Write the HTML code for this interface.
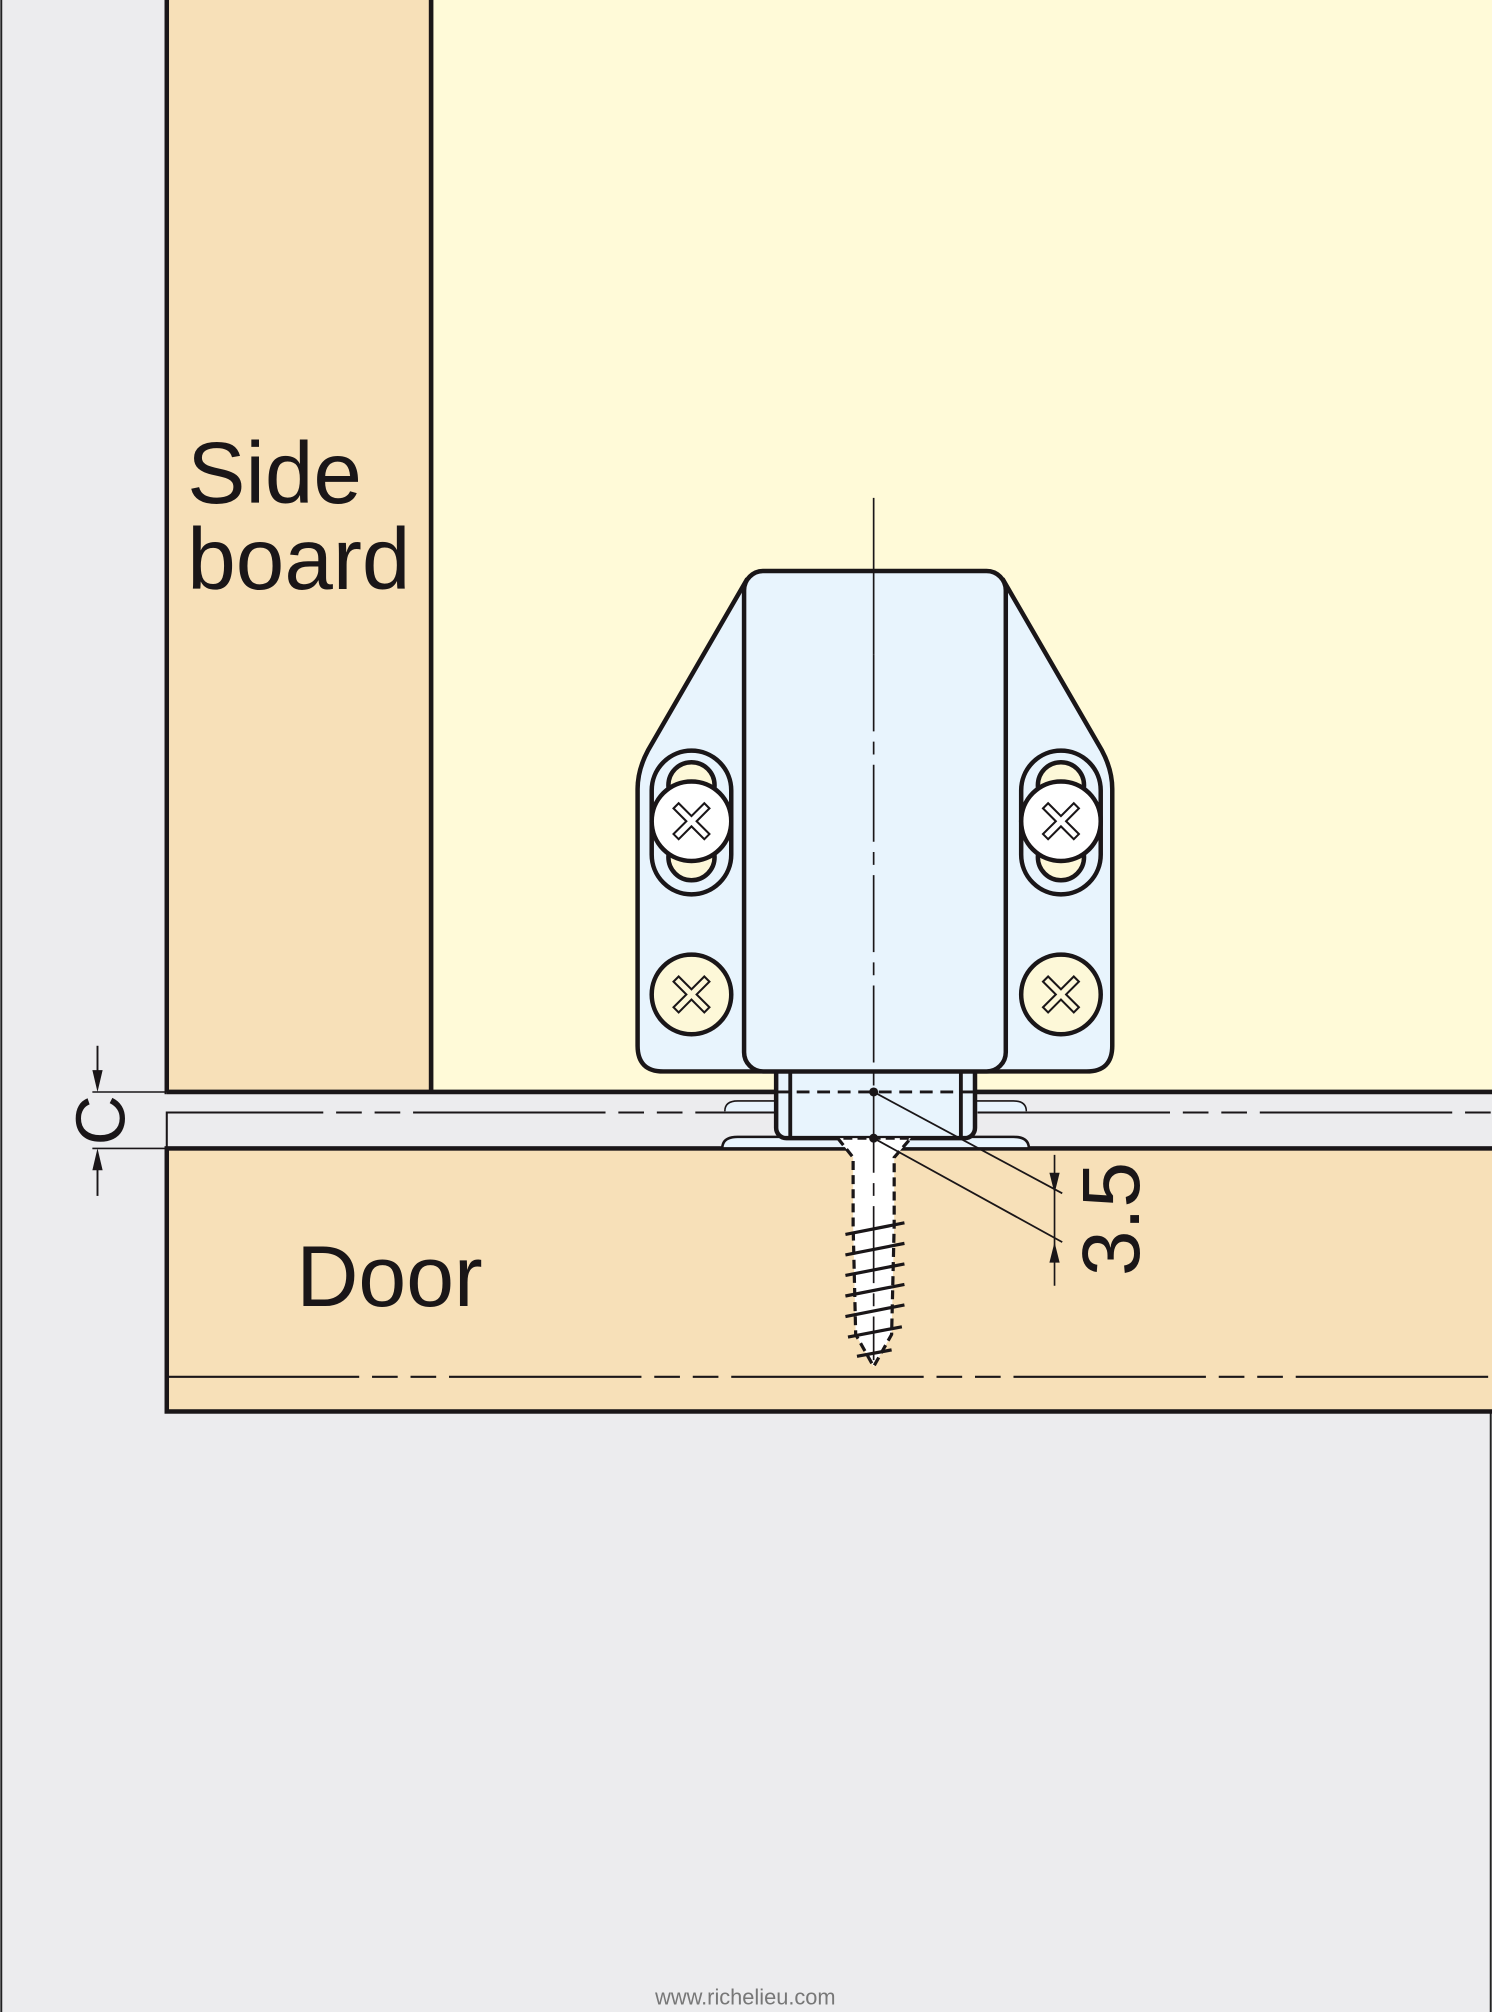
<!DOCTYPE html>
<html><head><meta charset="utf-8"><style>
html,body{margin:0;padding:0;background:#ececee;}
svg{display:block;}
text{font-family:"Liberation Sans",sans-serif;fill:#1a1618;}
</style></head><body>
<svg width="1492" height="2012" viewBox="0 0 1163 1568" preserveAspectRatio="none" xmlns="http://www.w3.org/2000/svg">
<rect x="0" y="0" width="1163" height="1568" fill="#ececee"/>
<line x1="1" y1="0" x2="1" y2="1568" stroke="#222" stroke-width="1.5"/>
<line x1="1162" y1="0" x2="1162" y2="1568" stroke="#222" stroke-width="1.5"/>
<!-- interior -->
<rect x="336" y="-5" width="830" height="856" fill="#fffad8" stroke="#1a1618" stroke-width="3.5"/>
<!-- side board -->
<rect x="130" y="-5" width="206" height="856" fill="#f7e0b8" stroke="#1a1618" stroke-width="3.5"/>
<text x="146" y="392" font-size="68">Side</text>
<text x="146" y="459" font-size="68">board</text>
<!-- gap -->
<rect x="130" y="851" width="1040" height="44" fill="#ececee"/>
<line x1="130" y1="851" x2="1163" y2="851" stroke="#1a1618" stroke-width="3.5"/>
<path d="M130 895 V867 H1163" fill="none" stroke="#1a1618" stroke-width="1.6" stroke-dasharray="150 10 20 10 20 10"/>
<!-- door -->
<rect x="130" y="895" width="1040" height="205" fill="#f7e0b8" stroke="#1a1618" stroke-width="3.5"/>
<line x1="130" y1="1073" x2="1163" y2="1073" stroke="#1a1618" stroke-width="1.6" stroke-dasharray="150 10 20 10 20 10"/>
<text x="231" y="1018" font-size="67">Door</text>
<!-- C dimension -->
<line x1="72" y1="851" x2="130" y2="851" stroke="#1a1618" stroke-width="1.2"/>
<line x1="72" y1="895" x2="130" y2="895" stroke="#1a1618" stroke-width="1.2"/>
<line x1="76" y1="815" x2="76" y2="840" stroke="#1a1618" stroke-width="1.5"/>
<polygon points="72,834 80,834 76,851" fill="#1a1618"/>
<line x1="76" y1="905" x2="76" y2="932" stroke="#1a1618" stroke-width="1.5"/>
<polygon points="72,912 80,912 76,895" fill="#1a1618"/>
<text x="0" y="0" font-size="54" transform="translate(97,873) rotate(-90)" text-anchor="middle">C</text>
<!-- plunger flanges -->
<path d="M565 866 Q565 858 575 858 H790 Q800 858 800 866" fill="#e8f4fd" stroke="#1a1618" stroke-width="1.2"/>
<path d="M563 895 Q563 886 575 886 H790 Q802 886 802 895 Z" fill="#e8f4fd" stroke="#1a1618" stroke-width="2"/>
<!-- plunger -->
<rect x="605" y="820" width="155" height="67" rx="8" fill="#e8f4fd" stroke="#1a1618" stroke-width="3.5"/>
<line x1="616" y1="835" x2="616" y2="887" stroke="#1a1618" stroke-width="3"/>
<line x1="749" y1="835" x2="749" y2="887" stroke="#1a1618" stroke-width="3"/>
<line x1="605" y1="851" x2="760" y2="851" stroke="#1a1618" stroke-width="2.2" stroke-dasharray="10 6"/>
<!-- bracket -->
<path d="M582 452 L505 585 Q497 600 497 615 V815 Q497 835 517 835 H847 Q867 835 867 815 V615 Q867 600 859 585 L782 452 Z" fill="#e8f4fd" stroke="#1a1618" stroke-width="3.5"/>
<rect x="580" y="445" width="204" height="390" rx="15" fill="#e8f4fd" stroke="#1a1618" stroke-width="3.5"/>
<!-- screws -->
<g stroke="#1a1618" stroke-width="3.5">
<rect x="508" y="585" width="62" height="112" rx="31" fill="#e8f4fd"/>
<circle cx="539" cy="612" r="18" fill="#fdf8d8"/>
<circle cx="539" cy="668" r="18" fill="#fdf8d8"/>
<circle cx="539" cy="640" r="31" fill="#fff"/>
<rect x="796" y="585" width="62" height="112" rx="31" fill="#e8f4fd"/>
<circle cx="827" cy="612" r="18" fill="#fdf8d8"/>
<circle cx="827" cy="668" r="18" fill="#fdf8d8"/>
<circle cx="827" cy="640" r="31" fill="#fff"/>
<circle cx="539" cy="775" r="31" fill="#fdf8d8"/>
<circle cx="827" cy="775" r="31" fill="#fdf8d8"/>
</g>
<g fill="#fff" stroke="#1a1618" stroke-width="1.6">
<path d="M-4 0 L-14 -10 L-10 -14 L0 -4 L10 -14 L14 -10 L4 0 L14 10 L10 14 L0 4 L-10 14 L-14 10 Z" transform="translate(539,640)"/>
<path d="M-4 0 L-14 -10 L-10 -14 L0 -4 L10 -14 L14 -10 L4 0 L14 10 L10 14 L0 4 L-10 14 L-14 10 Z" transform="translate(827,640)"/>
<path d="M-4 0 L-14 -10 L-10 -14 L0 -4 L10 -14 L14 -10 L4 0 L14 10 L10 14 L0 4 L-10 14 L-14 10 Z" transform="translate(539,775)" fill="#fdf8d8"/>
<path d="M-4 0 L-14 -10 L-10 -14 L0 -4 L10 -14 L14 -10 L4 0 L14 10 L10 14 L0 4 L-10 14 L-14 10 Z" transform="translate(827,775)" fill="#fdf8d8"/>
</g>
<!-- screw in door -->
<path d="M653 887 L665 902 V955 L667 1040 L681 1065 L695 1040 L697 955 V902 L710 887 Z" fill="#fff" stroke="#1a1618" stroke-width="2.5" stroke-dasharray="7 4"/>
<g stroke="#1a1618" stroke-width="2.5">
<line x1="659" y1="962" x2="705" y2="953"/>
<line x1="659" y1="978" x2="705" y2="969"/>
<line x1="659" y1="994" x2="705" y2="985"/>
<line x1="659" y1="1010" x2="705" y2="1001"/>
<line x1="659" y1="1026" x2="705" y2="1017"/>
<line x1="661" y1="1042" x2="703" y2="1034"/>
<line x1="668" y1="1057" x2="695" y2="1052"/>
</g>
<!-- centerline -->
<line x1="681" y1="388" x2="681" y2="510" stroke="#1a1618" stroke-width="1.3"/>
<line x1="681" y1="510" x2="681" y2="1060" stroke="#1a1618" stroke-width="1.3" stroke-dasharray="60 8 10 8"/>
<!-- dimension 3.5 -->
<circle cx="681" cy="851" r="3.5" fill="#1a1618"/>
<circle cx="681" cy="887" r="3.5" fill="#1a1618"/>
<line x1="681" y1="851" x2="828" y2="930" stroke="#1a1618" stroke-width="1.4"/>
<line x1="681" y1="887" x2="828" y2="968" stroke="#1a1618" stroke-width="1.4"/>
<line x1="822" y1="900" x2="822" y2="1002" stroke="#1a1618" stroke-width="1.3"/>
<polygon points="818,914 826,914 822,930" fill="#1a1618"/>
<polygon points="818,984 826,984 822,968" fill="#1a1618"/>
<text x="0" y="0" font-size="64" transform="translate(888,950) rotate(-90)" text-anchor="middle">3.5</text>
<!-- footer -->
<text x="581" y="1562" font-size="17" text-anchor="middle" style="fill:#777">www.richelieu.com</text>
</svg>
</body></html>
